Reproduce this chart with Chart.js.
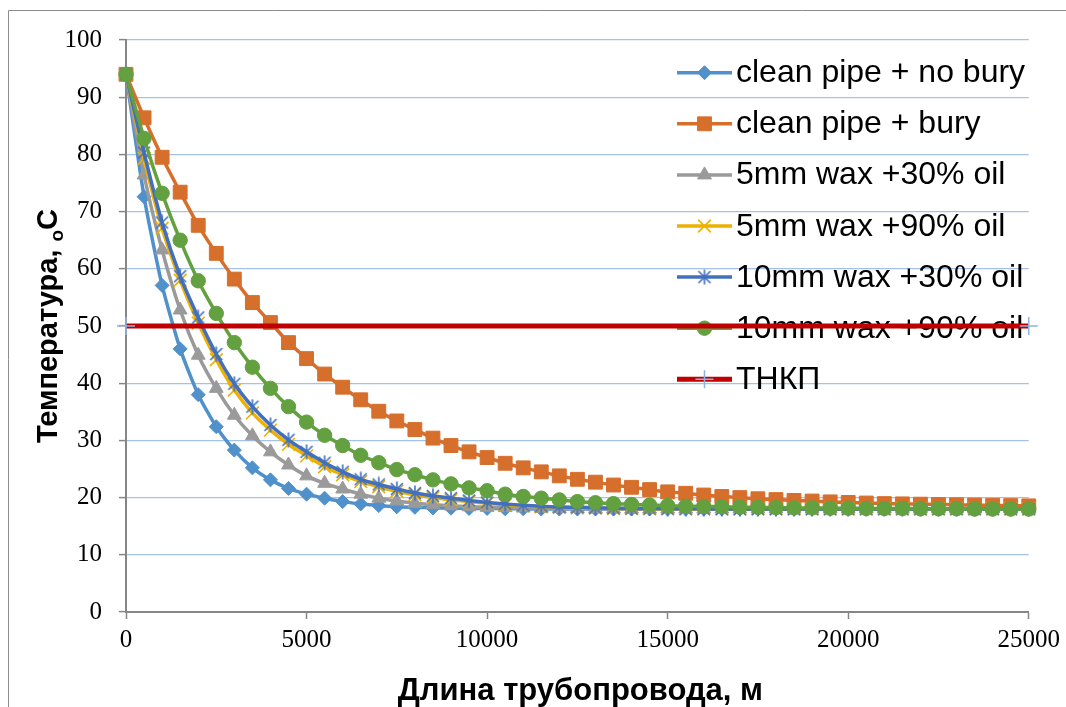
<!DOCTYPE html>
<html>
<head>
<meta charset="utf-8">
<script src="https://cdn.jsdelivr.net/npm/chart.js@4.4.1/dist/chart.umd.min.js"></script>
<style>
  html, body { margin: 0; padding: 0; background: #ffffff; }
  canvas { display: block; }
</style>
</head>
<body>
<canvas id="chart" width="1066" height="707"></canvas>
<script>
// Distance along the pipeline, m
const distance = [
  0, 500, 1000, 1500, 2000, 2500, 3000, 3500, 4000, 4500,
  5000, 5500, 6000, 6500, 7000, 7500, 8000, 8500, 9000, 9500,
  10000, 10500, 11000, 11500, 12000, 12500, 13000, 13500, 14000, 14500,
  15000, 15500, 16000, 16500, 17000, 17500, 18000, 18500, 19000, 19500,
  20000, 20500, 21000, 21500, 22000, 22500, 23000, 23500, 24000, 24500,
  25000
];

// Fluid temperature, °C
const cleanNoBury = [
  94, 72.6, 57.1, 46.0, 38.0, 32.4, 28.3, 25.2, 23.1, 21.6,
  20.6, 19.9, 19.3, 18.9, 18.6, 18.4, 18.3, 18.2, 18.15, 18.1,
  18.1, 18.05, 18.05, 18.0, 18.0, 18.0, 18.0, 18.0, 18.0, 18.0,
  18.0, 18.0, 18.0, 18.0, 18.0, 18.0, 18.0, 18.0, 18.0, 18.0,
  18.0, 18.0, 18.0, 18.0, 18.0, 18.0, 18.0, 18.0, 18.0, 18.0,
  18.0
];
const cleanBury = [
  94, 86.4, 79.5, 73.4, 67.6, 62.7, 58.2, 54.1, 50.6, 47.1,
  44.3, 41.6, 39.3, 37.1, 35.1, 33.4, 31.9, 30.4, 29.1, 28.0,
  27.0, 26.0, 25.2, 24.5, 23.8, 23.2, 22.7, 22.2, 21.8, 21.4,
  21.0, 20.75, 20.45, 20.2, 20.0, 19.8, 19.65, 19.5, 19.4, 19.25,
  19.15, 19.05, 18.95, 18.9, 18.85, 18.8, 18.75, 18.7, 18.65, 18.6,
  18.55
];
const wax5Oil30 = [
  94, 76.4, 63.3, 52.8, 44.9, 39.1, 34.4, 30.8, 28.0, 25.7,
  23.8, 22.5, 21.5, 20.6, 19.9, 19.4, 19.0, 18.75, 18.55, 18.4,
  18.3, 18.25, 18.2, 18.15, 18.1, 18.1, 18.05, 18.05, 18.0, 18.0,
  18.0, 18.0, 18.0, 18.0, 18.0, 18.0, 18.0, 18.0, 18.0, 18.0,
  18.0, 18.0, 18.0, 18.0, 18.0, 18.0, 18.0, 18.0, 18.0, 18.0,
  18.0
];
const wax5Oil90 = [
  94, 79.3, 67.1, 58.0, 50.5, 44.1, 38.8, 34.8, 31.8, 29.3,
  27.3, 25.4, 24.0, 22.8, 21.9, 21.1, 20.5, 20.0, 19.6, 19.3,
  19.0, 18.75, 18.55, 18.4, 18.3, 18.2, 18.15, 18.1, 18.1, 18.05,
  18.05, 18.0, 18.0, 18.0, 18.0, 18.0, 18.0, 18.0, 18.0, 18.0,
  18.0, 18.0, 18.0, 18.0, 18.0, 18.0, 18.0, 18.0, 18.0, 18.0,
  18.0
];
const wax10Oil30 = [
  94, 80.3, 68.1, 58.7, 51.5, 45.1, 39.9, 35.9, 32.7, 30.1,
  28.0, 26.1, 24.5, 23.2, 22.3, 21.5, 20.8, 20.3, 19.9, 19.5,
  19.15, 18.9, 18.65, 18.5, 18.35, 18.3, 18.2, 18.15, 18.1, 18.1,
  18.05, 18.05, 18.05, 18.0, 18.0, 18.0, 18.0, 18.0, 18.0, 18.0,
  18.0, 18.0, 18.0, 18.0, 18.0, 18.0, 18.0, 18.0, 18.0, 18.0,
  18.0
];
const wax10Oil90 = [
  94, 82.8, 73.2, 65.0, 57.9, 52.2, 47.1, 42.8, 39.1, 35.9,
  33.2, 30.9, 29.1, 27.4, 26.1, 24.9, 24.0, 23.1, 22.4, 21.7,
  21.2, 20.6, 20.2, 19.9, 19.6, 19.3, 19.1, 18.95, 18.8, 18.7,
  18.6, 18.5, 18.45, 18.4, 18.35, 18.3, 18.25, 18.2, 18.2, 18.15,
  18.15, 18.1, 18.1, 18.1, 18.05, 18.05, 18.05, 18.0, 18.0, 18.0,
  18.0
];
// Wax appearance temperature line
const thkpDistance = [0, 25000];
const thkpTemp = [50, 50];

const seriesNames = [
  'clean pipe + no bury',
  'clean pipe + bury',
  '5mm wax +30% oil',
  '5mm wax +90% oil',
  '10mm wax +30% oil',
  '10mm wax +90% oil',
  'ТНКП'
];
const xTickValues = [0, 5000, 10000, 15000, 20000, 25000];
const yTickValues = [0, 10, 20, 30, 40, 50, 60, 70, 80, 90, 100];
const xTitle = 'Длина трубопровода, м';
const yTitleMain = 'Температура, ';
const yTitleSub = 'o';
const yTitleUnit = 'C';

// Asterisk marker: an X with a vertical stroke
function makeAsterisk(color) {
  const c = document.createElement('canvas');
  c.width = 16; c.height = 16;
  const g = c.getContext('2d');
  g.strokeStyle = color;
  g.lineWidth = 1.6;
  g.beginPath();
  g.moveTo(2, 2); g.lineTo(14, 14);
  g.moveTo(14, 2); g.lineTo(2, 14);
  g.moveTo(8, 0.5); g.lineTo(8, 15.5);
  g.stroke();
  return c;
}

const seriesStyles = [
  { color: '#5090CB', point: 'rectRot', radius: 7, pw: 1, lw: 3.5 },
  { color: '#D66F2C', point: 'rect', radius: 9.8, pw: 1, lw: 3.5 },
  { color: '#9A9A9A', point: 'triangle', radius: 8, pw: 1, lw: 3.5 },
  { color: '#EDB100', point: 'crossRot', radius: 9, pw: 1.6, lw: 3.5 },
  { color: '#4270BF', point: makeAsterisk('#4270BF'), radius: 7, pw: 1.5, lw: 3.5 },
  { color: '#63A03F', point: 'circle', radius: 7.2, pw: 1, lw: 3.5 },
  { color: '#C00000', point: 'cross', radius: 9, pw: 1.5, lw: 5, pointColor: '#8DB3E2' }
];

const seriesValues = [cleanNoBury, cleanBury, wax5Oil30, wax5Oil90, wax10Oil30, wax10Oil90];

const datasets = seriesValues.map((vals, i) => ({
  label: seriesNames[i],
  data: vals.map((v, k) => ({ x: distance[k], y: v })),
}));
datasets.push({
  label: seriesNames[6],
  data: thkpTemp.map((v, k) => ({ x: thkpDistance[k], y: v })),
});
datasets.forEach((ds, i) => {
  const s = seriesStyles[i];
  Object.assign(ds, {
    borderColor: s.color,
    backgroundColor: s.pointColor || s.color,
    borderWidth: s.lw,
    pointStyle: s.point,
    pointRadius: s.radius,
    pointHoverRadius: s.radius,
    pointBackgroundColor: s.pointColor || s.color,
    pointBorderColor: s.pointColor || s.color,
    pointBorderWidth: s.pw,
    tension: 0.2,
    fill: false,
    clip: false,
    order: datasets.length - i
  });
});

const SANS = '"Liberation Sans", Arial, sans-serif';
const SERIF = '"Liberation Serif", "Times New Roman", serif';

// Legend drawn inside the plot area, underneath the series
const insideLegend = {
  id: 'insideLegend',
  beforeDatasetsDraw(chart) {
    const ctx = chart.ctx;
    ctx.save();
    chart.data.datasets.forEach((ds, i) => {
      const y = 72.7 + i * 51.1;
      ctx.strokeStyle = ds.borderColor;
      ctx.lineWidth = ds.borderWidth;
      ctx.beginPath();
      ctx.moveTo(677, y);
      ctx.lineTo(732, y);
      ctx.stroke();
      ctx.fillStyle = ds.pointBackgroundColor;
      ctx.strokeStyle = ds.pointBorderColor;
      ctx.lineWidth = ds.pointBorderWidth;
      Chart.helpers.drawPoint(ctx, {
        pointStyle: ds.pointStyle, radius: ds.pointRadius, rotation: 0,
        borderWidth: ds.pointBorderWidth
      }, 704.5, y);
      ctx.fillStyle = '#000000';
      ctx.font = '32px ' + SANS;
      ctx.textAlign = 'left';
      ctx.textBaseline = 'alphabetic';
      ctx.fillText(ds.label, 736, y + 9.5);
    });
    ctx.restore();
  }
};

// Axis titles and outer frame
const decorations = {
  id: 'decorations',
  afterDraw(chart) {
    const ctx = chart.ctx;
    const area = chart.chartArea;
    ctx.save();
    ctx.strokeStyle = '#8C8C8C';
    ctx.lineWidth = 1;
    ctx.beginPath();
    ctx.moveTo(8.5, 720);
    ctx.lineTo(8.5, 10.5);
    ctx.lineTo(1080, 10.5);
    ctx.stroke();

    ctx.fillStyle = '#000000';
    ctx.textBaseline = 'alphabetic';
    ctx.font = 'bold 31px ' + SANS;
    ctx.textAlign = 'center';
    ctx.fillText(xTitle, (area.left + area.right) / 2 + 3, 700);

    const big = 'bold 29px ' + SANS;
    const small = 'bold 19px ' + SANS;
    ctx.font = big;
    const w1 = ctx.measureText(yTitleMain).width;
    const w3 = ctx.measureText(yTitleUnit).width;
    ctx.font = small;
    const w2 = ctx.measureText(yTitleSub).width;
    ctx.translate(57, (area.top + area.bottom) / 2);
    ctx.rotate(-Math.PI / 2);
    ctx.textAlign = 'left';
    let x = -(w1 + w2 + w3) / 2;
    ctx.font = big; ctx.fillText(yTitleMain, x, 0); x += w1;
    ctx.font = small; ctx.fillText(yTitleSub, x, 6); x += w2;
    ctx.font = big; ctx.fillText(yTitleUnit, x, 0);
    ctx.restore();
  }
};

new Chart(document.getElementById('chart'), {
  type: 'line',
  data: { datasets },
  plugins: [insideLegend, decorations],
  options: {
    responsive: false,
    animation: false,
    devicePixelRatio: 1,
    layout: { padding: { top: 40, right: 34, left: 0, bottom: 0 } },
    plugins: {
      legend: { display: false },
      tooltip: { enabled: false }
    },
    scales: {
      x: {
        type: 'linear',
        min: 0,
        max: 25000,
        afterFit(scale) { scale.height = 95; },
        afterBuildTicks(scale) { scale.ticks = xTickValues.map(v => ({ value: v })); },
        ticks: {
          callback: v => String(v),
          font: { family: SERIF, size: 25 },
          color: '#000000',
          padding: 6,
          maxRotation: 0
        },
        grid: {
          drawOnChartArea: false,
          drawTicks: true,
          tickLength: 7,
          tickColor: '#868686',
          tickWidth: 1.5
        },
        border: { color: '#868686', width: 2 }
      },
      y: {
        type: 'linear',
        min: 0,
        max: 100,
        afterFit(scale) { scale.width = 126; },
        afterBuildTicks(scale) { scale.ticks = yTickValues.map(v => ({ value: v })); },
        ticks: {
          callback: v => String(v),
          font: { family: SERIF, size: 25 },
          color: '#000000',
          padding: 17
        },
        grid: {
          color: '#A4C2E8',
          lineWidth: 1.2,
          tickLength: 7,
          tickColor: '#868686',
          tickWidth: 1.5
        },
        border: { color: '#868686', width: 2 }
      }
    }
  }
});
</script>
</body>
</html>
